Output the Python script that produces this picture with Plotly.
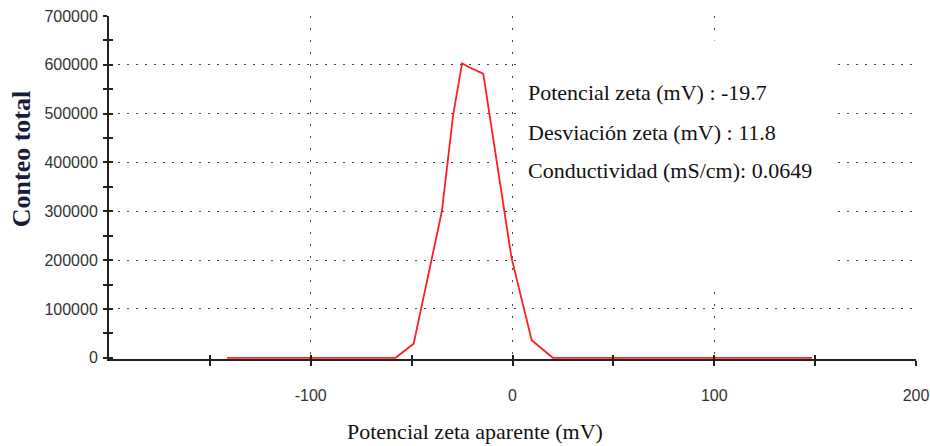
import plotly.graph_objects as go

# Data
zeta_mv = [-141.5, -58, -49, -35, -29.5, -25, -21, -14.5, -0.5, 9.5, 20, 148.5]
conteo = [0, 0, 29000, 300000, 495000, 603000, 594000, 582000, 205000, 36000, 0, 0]

x_major = [-100, 0, 100, 200]
x_labels = ["-100", "0", "100", "200"]
x_minor = [-150, -50, 50, 150]
y_major = [0, 100000, 200000, 300000, 400000, 500000, 600000, 700000]
y_labels = ["0", "100000", "200000", "300000", "400000", "500000", "600000", "700000"]
y_minor = [50000, 150000, 250000, 350000, 450000, 550000, 650000]
y_grid = [100000, 200000, 300000, 400000, 500000, 600000, 700000]

info_lines = [
    "Potencial zeta (mV) : -19.7",
    "Desviación zeta (mV) : 11.8",
    "Conductividad (mS/cm): 0.0649",
]
info_y = [543800, 461900, 384100]

AX = "#222222"
GRID = "#444444"
tick_font = dict(family="Liberation Sans, Arial", size=16, color="#333333")
serif = "Liberation Serif, Times New Roman, serif"
Y_RANGE = [-2500, 700000]

fig = go.Figure()
fig.add_trace(go.Scatter(x=zeta_mv, y=conteo, mode="lines",
                         line=dict(color="#ff1f1f", width=1.8),
                         showlegend=False, hoverinfo="skip"))
# empty helper traces so the overlay axes render
fig.add_trace(go.Scatter(x=[], y=[], xaxis="x2", yaxis="y2", showlegend=False))
fig.add_trace(go.Scatter(x=[], y=[], xaxis="x", yaxis="y3", showlegend=False))

fig.update_layout(
    width=930, height=446,
    margin=dict(l=109, r=14, t=16, b=87, autoexpand=False),
    paper_bgcolor="white", plot_bgcolor="white",
    xaxis=dict(
        range=[-200, 200], tickvals=x_major, ticktext=x_labels,
        showline=True, linecolor=AX, linewidth=2, automargin=False,
        layer="below traces",
        ticks="outside", ticklen=5, tickwidth=1.5, tickcolor=AX,
        minor=dict(tickvals=x_minor, ticks="outside", ticklen=5, tickwidth=1.5,
                   tickcolor=AX, showgrid=False),
        showgrid=True, gridcolor=GRID, gridwidth=1, griddash="2px,10px",
        zeroline=False, tickfont=tick_font, ticklabelstandoff=16,
        ticklabeloverflow="allow",
    ),
    yaxis=dict(
        range=Y_RANGE, tickvals=y_major, ticktext=y_labels,
        showline=True, linecolor=AX, linewidth=2, automargin=False,
        layer="below traces",
        ticks="outside", ticklen=4, tickwidth=1.5, tickcolor=AX,
        minor=dict(tickvals=y_minor, ticks="outside", ticklen=4, tickwidth=1.5,
                   tickcolor=AX, showgrid=False),
        showgrid=False, zeroline=False, tickfont=tick_font, ticklabelstandoff=2,
        ticklabeloverflow="allow",
    ),
    xaxis2=dict(
        range=[-200, 200], overlaying="x", anchor="y", side="bottom",
        tickvals=x_major, showticklabels=False, ticks="inside", ticklen=4,
        tickwidth=1.5, tickcolor=AX, showgrid=False, zeroline=False, showline=False,
        automargin=False,
        minor=dict(tickvals=x_minor, ticks="inside", ticklen=4, tickwidth=1.5, tickcolor=AX),
    ),
    yaxis2=dict(
        range=Y_RANGE, overlaying="y", anchor="x", side="left",
        tickvals=y_major, showticklabels=False, ticks="inside", ticklen=4,
        tickwidth=1.5, tickcolor=AX, showgrid=False, zeroline=False, showline=False,
        automargin=False,
        minor=dict(tickvals=y_minor, ticks="inside", ticklen=4, tickwidth=1.5, tickcolor=AX),
    ),
    yaxis3=dict(
        range=Y_RANGE, overlaying="y", anchor="x", side="left",
        tickvals=y_grid, showticklabels=False, ticks="",
        showgrid=True, gridcolor=GRID, gridwidth=1, griddash="2px,7px",
        zeroline=False, showline=False, automargin=False, layer="below traces",
    ),
    shapes=[dict(type="rect", xref="x", yref="y", x0=2.3, x1=159, y0=142600, y1=650000,
                 fillcolor="white", line=dict(width=0), layer="between")],
)

# axis titles (placed as annotations to match the reference's off-centre positions)
fig.add_annotation(x=0.4535, y=-0.2105, xref="paper", yref="paper",
                   text="Potencial zeta aparente (mV)", showarrow=False,
                   xanchor="center", yanchor="middle",
                   font=dict(family=serif, size=22, color="#111111"))
fig.add_annotation(x=-0.108, y=0.582, xref="paper", yref="paper",
                   text="<b>Conteo total</b>", showarrow=False, textangle=-90,
                   xanchor="center", yanchor="middle",
                   font=dict(family=serif, size=26, color="#1a1a3a"))

for txt, yy in zip(info_lines, info_y):
    fig.add_annotation(x=6.8, y=yy, xref="x", yref="y", text=txt, showarrow=False,
                       xanchor="left", yanchor="middle",
                       font=dict(family=serif, size=22, color="#111111"))

fig.write_html("out.html", config={"displayModeBar": False},
               post_script="document.body.style.margin='0px';document.body.style.overflow='hidden';")
